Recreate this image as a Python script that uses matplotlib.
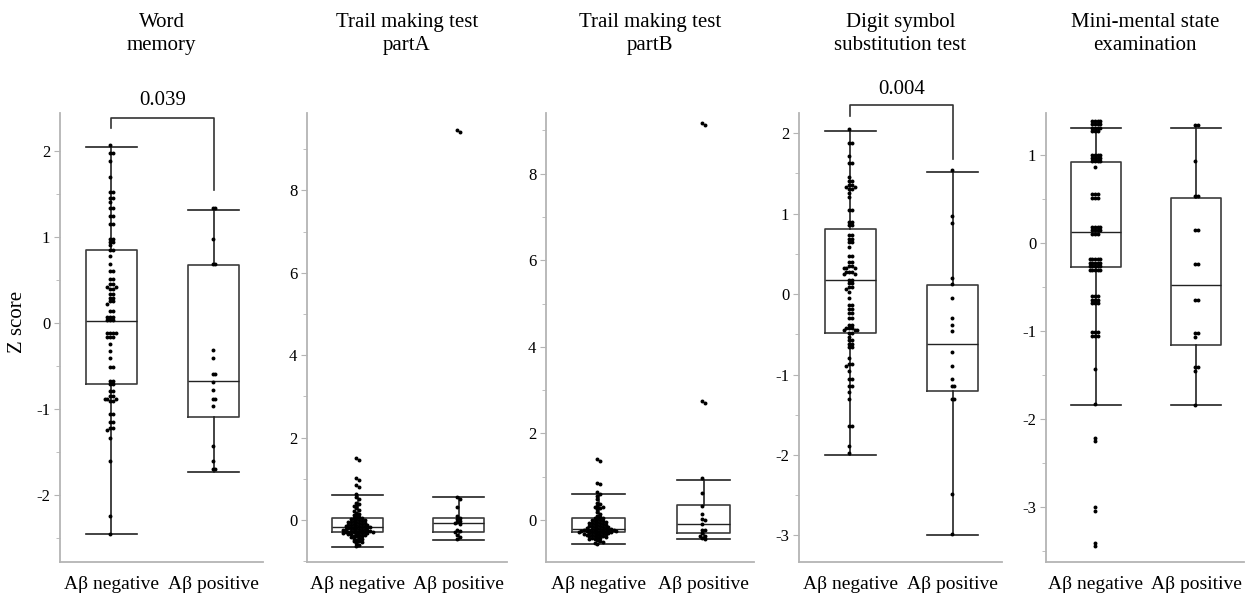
import numpy as np
import matplotlib.pyplot as plt
from matplotlib.ticker import MultipleLocator

plt.rcParams['font.family'] = ['Liberation Serif', 'DejaVu Serif']
plt.rcParams['axes.unicode_minus'] = False

# ====== Data ======
groups = ["Aβ negative", "Aβ positive"]
titles = ["Word\nmemory", "Trail making test\npartA", "Trail making test\npartB",
          "Digit symbol\nsubstitution test", "Mini-mental state\nexamination"]

# word memory
wm_neg = [2.07, 1.98, 1.98, 1.88, 1.70, 1.52, 1.52, 1.45, 1.45, 1.41, 1.33, 1.33,
          1.24, 1.24, 1.15, 1.15, 0.98, 0.98, 0.94, 0.94, 0.90, 0.85, 0.85, 0.78,
          0.69, 0.60, 0.60, 0.51, 0.51, 0.45, 0.45, 0.42, 0.42, 0.39, 0.39, 0.33,
          0.33, 0.29, 0.29, 0.25, 0.25, 0.22, 0.14, 0.14, 0.07, 0.07, 0.07, 0.03,
          0.03, 0.03, -0.12, -0.12, -0.12, -0.12, -0.16, -0.16, -0.16, -0.24, -0.33,
          -0.41, -0.51, -0.51, -0.67, -0.67, -0.71, -0.71, -0.79, -0.79, -0.85, -0.85,
          -0.88, -0.88, -0.88, -0.91, -0.91, -1.06, -1.06, -1.15, -1.15, -1.22, -1.22,
          -1.25, -1.34, -1.61, -2.25, -2.45]
wm_pos = [1.33, 1.33, 0.97, 0.69, 0.69, -0.32, -0.41, -0.60, -0.60, -0.69, -0.78,
          -0.88, -0.88, -0.97, -1.43, -1.61, -1.70, -1.70]

# trail making test A
tmta_neg = [1.50, 1.46, 1.02, 0.97, 0.85, 0.80, 0.62, 0.55, 0.50, 0.42, 0.38, 0.35,
            0.33, 0.28, 0.25, 0.22, 0.18, 0.15, 0.12, 0.10, 0.08, 0.06,
            0.05, 0.03, 0.02, 0.0, 0.0, -0.02, -0.03, -0.05, -0.05, -0.06, -0.08,
            -0.08, -0.09, -0.10, -0.11, -0.12, -0.12, -0.13, -0.14, -0.15, -0.15, -0.16,
            -0.17, -0.18, -0.18, -0.19, -0.20, -0.20, -0.21, -0.22, -0.22, -0.23, -0.24,
            -0.24, -0.25, -0.26, -0.26, -0.27, -0.28, -0.28, -0.29, -0.29, -0.30, -0.30,
            -0.31, -0.32, -0.32, -0.33, -0.34, -0.35, -0.36, -0.36, -0.38, -0.39, -0.40,
            -0.42, -0.43, -0.45, -0.46, -0.48, -0.50, -0.52, -0.54, -0.57, -0.60, -0.64]
tmta_pos = [9.46, 9.42, 0.57, 0.52, 0.31, 0.10, 0.06, 0.02, -0.02, -0.05, -0.08,
            -0.10, -0.24, -0.27, -0.29, -0.36, -0.42, -0.47]

# trail making test B
tmtb_neg = [1.40, 1.37, 0.86, 0.83, 0.64, 0.60, 0.55, 0.48, 0.40, 0.36, 0.33, 0.30,
            0.30, 0.28, 0.25, 0.18, 0.15, 0.10, 0.08, 0.05,
            0.04, 0.02, 0.01, 0.0, -0.02, -0.03, -0.04, -0.05, -0.06, -0.07, -0.08,
            -0.09, -0.10, -0.11, -0.12, -0.13, -0.14, -0.15, -0.16, -0.16, -0.17, -0.18,
            -0.19, -0.19, -0.20, -0.21, -0.21, -0.22, -0.22, -0.23, -0.23, -0.24, -0.24,
            -0.25, -0.25, -0.25, -0.26, -0.26, -0.27, -0.27, -0.28, -0.28,
            -0.29, -0.30, -0.30, -0.31, -0.32, -0.32, -0.33, -0.34, -0.35, -0.35, -0.36,
            -0.37, -0.38, -0.39, -0.40, -0.41, -0.42, -0.43, -0.45, -0.47, -0.49, -0.51,
            -0.53, -0.56]
tmtb_pos = [9.17, 9.13, 2.75, 2.71, 0.98, 0.62, 0.32, 0.14, 0.02, 0.01, -0.10,
            -0.22, -0.24, -0.31, -0.36, -0.36, -0.41, -0.43]

# digit symbol substitution test
dsst_neg = [2.05, 1.88, 1.88, 1.72, 1.63, 1.63, 1.46, 1.40, 1.40, 1.36, 1.36, 1.33,
            1.33, 1.30, 1.30, 1.26, 1.20, 1.04, 1.04, 0.90, 0.90, 0.86, 0.86, 0.73,
            0.73, 0.69, 0.69, 0.65, 0.65, 0.59, 0.47, 0.47, 0.40, 0.40, 0.35, 0.35,
            0.32, 0.32, 0.32, 0.28, 0.28, 0.28, 0.25, 0.25, 0.18, 0.18, 0.14, 0.14,
            0.09, 0.09, 0.06, 0.02, -0.05, -0.13, -0.13, -0.19, -0.19, -0.24, -0.24,
            -0.30, -0.30, -0.38, -0.38, -0.42, -0.42, -0.42, -0.45, -0.45, -0.45, -0.49,
            -0.49, -0.53, -0.57, -0.57, -0.62, -0.62, -0.66, -0.66, -0.80, -0.87, -0.87,
            -0.90, -0.96, -1.05, -1.05, -1.14, -1.14, -1.22, -1.31, -1.64, -1.64, -1.89,
            -1.97]
dsst_pos = [1.54, 0.97, 0.88, 0.20, 0.13, -0.05, -0.30, -0.38, -0.46, -0.72, -0.89,
            -1.06, -1.14, -1.14, -1.31, -1.31, -2.48, -2.98]

# mini-mental state examination
mmse_neg = [1.39, 1.39, 1.39, 1.39, 1.35, 1.35, 1.35, 1.35, 1.31, 1.31, 1.31, 1.31,
            1.28, 1.28, 1.28, 1.00, 1.00, 1.00, 1.00, 0.97, 0.97, 0.97, 0.97, 0.93,
            0.93, 0.93, 0.93, 0.87, 0.56, 0.56, 0.56, 0.52, 0.52, 0.52, 0.19, 0.19,
            0.19, 0.19, 0.15, 0.15, 0.15, 0.15, 0.11, 0.11, 0.11, -0.18, -0.18, -0.18,
            -0.18, -0.18, -0.22, -0.22, -0.22, -0.22, -0.22, -0.26, -0.26, -0.26, -0.26,
            -0.26, -0.30, -0.30, -0.30, -0.30, -0.30, -0.60, -0.60, -0.60, -0.64, -0.64,
            -0.64, -0.68, -0.68, -0.68, -1.01, -1.01, -1.01, -1.05, -1.05, -1.05, -1.43,
            -1.83, -2.21, -2.25, -3.00, -3.04, -3.40, -3.44]
mmse_pos = [1.34, 1.34, 0.94, 0.54, 0.54, 0.15, 0.15, -0.24, -0.24, -0.64, -0.64,
            -1.02, -1.02, -1.06, -1.41, -1.41, -1.45, -1.84]

# box statistics: whislo, q1, median, q3, whishi
stats_neg = [[-2.46, -0.713, 0.02, 0.849, 2.04],
             [-0.65, -0.30, -0.16, 0.056, 0.61],
             [-0.56, -0.28, -0.21, 0.053, 0.60],
             [-2.00, -0.49, 0.17, 0.81, 2.03],
             [-1.84, -0.27, 0.13, 0.92, 1.31]]
stats_pos = [[-1.73, -1.10, -0.67, 0.67, 1.31],
             [-0.49, -0.30, -0.065, 0.056, 0.57],
             [-0.45, -0.31, -0.10, 0.35, 0.92],
             [-3.00, -1.21, -0.62, 0.115, 1.52],
             [-1.84, -1.16, -0.47, 0.515, 1.31]]

# significance brackets: panel, p label, bar height, left leg end, right leg end, text y
sig_panel = [0, 3]
sig_text = ["0.039", "0.004"]
sig_bar = [2.38, 2.35]
sig_left = [2.26, 2.21]
sig_right = [1.55, 1.68]
sig_text_y = [2.59, 2.54]

neg_series = [wm_neg, tmta_neg, tmtb_neg, dsst_neg, mmse_neg]
pos_series = [wm_pos, tmta_pos, tmtb_pos, dsst_pos, mmse_pos]

# ====== Layout (pixels) ======
W, H = 1257, 596
ax_left = [60, 307, 546, 799, 1046]
ax_right = [263, 507, 754, 1002, 1244]
ax_top, ax_bottom = 113, 562
ylims = [(-2.78, 2.44), (-1.02, 9.88), (-0.97, 9.40), (-3.33, 2.25), (-3.62, 1.48)]
major_step = [1, 2, 2, 1, 1]
minor_step = [0.5, 1, 1, 0.5, 0.5]

spine_col = "#b4b4b4"
box_col = "#3c3c3c"


def swarm_offsets(ax, vals, xc, d=2.7):
    # simple beeswarm in pixel space, returns x positions in data units
    pts = ax.transData.transform([(xc, v) for v in vals])
    px_per_x = ax.transData.transform([(1, 0)])[0, 0] - ax.transData.transform([(0, 0)])[0, 0]
    order = np.argsort(-np.array(vals), kind="stable")
    placed = []
    xs = np.zeros(len(vals))
    for i in order:
        y = pts[i, 1]
        k = 0
        while True:
            off = ((k + 1) // 2) * d * (1 if k % 2 == 1 else -1) if k > 0 else 0.0
            if all((off - ox) ** 2 + (y - oy) ** 2 >= (d * 0.97) ** 2 for ox, oy in placed):
                break
            k += 1
        placed.append((off, y))
        xs[i] = xc + (off - d * 0.4) / px_per_x
    return xs


fig = plt.figure(figsize=(W / 100, H / 100), dpi=100)

for p in range(5):
    ax = fig.add_axes([ax_left[p] / W, (H - ax_bottom) / H,
                       (ax_right[p] - ax_left[p]) / W, (ax_bottom - ax_top) / H])
    ax.set_xlim(-0.5, 1.48)
    ax.set_ylim(*ylims[p])

    for side in ["top", "right"]:
        ax.spines[side].set_visible(False)
    for side in ["left", "bottom"]:
        ax.spines[side].set_color(spine_col)
        ax.spines[side].set_linewidth(1.3)

    bstats = []
    for s in (stats_neg[p], stats_pos[p]):
        bstats.append(dict(whislo=s[0], q1=s[1], med=s[2], q3=s[3], whishi=s[4], fliers=[]))
    ax.bxp(bstats, positions=[0, 1], widths=0.5, capwidths=0.5, showfliers=False,
           boxprops=dict(color=box_col, linewidth=1.2),
           medianprops=dict(color="#222222", linewidth=1.0),
           whiskerprops=dict(color="#222222", linewidth=1.2),
           capprops=dict(color="#222222", linewidth=1.2))

    for xc, vals in ((0, neg_series[p]), (1, pos_series[p])):
        xs = swarm_offsets(ax, vals, xc)
        ax.scatter(xs, vals, s=8, color="black", linewidths=0, zorder=5, clip_on=False)

    ax.set_xticks([0, 1])
    ax.set_xticklabels(groups, fontsize=14)
    ax.tick_params(axis="x", length=0, pad=10)
    ax.yaxis.set_major_locator(MultipleLocator(major_step[p]))
    ax.yaxis.set_minor_locator(MultipleLocator(minor_step[p]))
    ax.tick_params(axis="y", which="major", length=4, color=spine_col, labelsize=12, pad=3)
    ax.tick_params(axis="y", which="minor", length=3, color=spine_col)

    if p in sig_panel:
        j = sig_panel.index(p)
        ax.plot([0, 0, 1, 1], [sig_left[j], sig_bar[j], sig_bar[j], sig_right[j]],
                color="#333333", linewidth=1.2, clip_on=False)
        ax.text(0.5, sig_text_y[j], sig_text[j], ha="center", va="center",
                fontsize=15, clip_on=False)

    cx = (ax_left[p] + ax_right[p]) / 2 / W
    fig.text(cx, 1 - 34 / H, titles[p], ha="center", va="center", fontsize=15,
             linespacing=1.25)

fig.text(18 / W, 1 - 322 / H, "Z score", rotation=90, ha="center", va="center", fontsize=15)

fig.savefig("out.png", dpi=100)
